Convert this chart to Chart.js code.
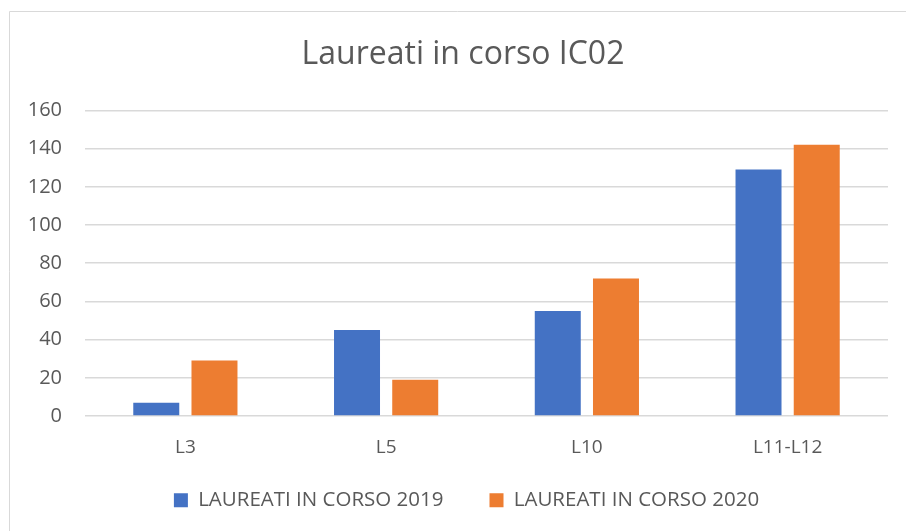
<!DOCTYPE html>
<html>
<head>
<meta charset="utf-8">
<script src="https://cdn.jsdelivr.net/npm/chart.js@4/dist/chart.umd.min.js"></script>
<style>
  html, body { margin: 0; padding: 0; background: #ffffff; }
  #wrap { width: 906px; height: 531px; position: relative; }
</style>
</head>
<body>
<div id="wrap"><canvas id="chart" width="906" height="531"></canvas></div>
<script>
// Chart data
const categories = ['L3', 'L5', 'L10', 'L11-L12'];
const values2019 = [7, 45, 55, 129];
const values2020 = [29, 19, 72, 142];
const seriesNames = ['LAUREATI IN CORSO 2019', 'LAUREATI IN CORSO 2020'];

const TEXT_COLOR = '#595959';
const GRID_COLOR = '#d9d9d9';
const FONT = "'Open Sans', 'Noto Sans', sans-serif";

// Thin frame round the chart, like the Excel chart border
const framePlugin = {
    id: 'frame',
    beforeDraw: function(chart) {
        const ctx = chart.ctx;
        ctx.save();
        ctx.strokeStyle = GRID_COLOR;
        ctx.lineWidth = 1;
        ctx.beginPath();
        ctx.moveTo(9.5, chart.height);
        ctx.lineTo(9.5, 11.5);
        ctx.lineTo(chart.width, 11.5);
        ctx.stroke();
        ctx.restore();
    }
};

// Excel centres title and legend on the whole frame, not on the plot;
// nudge both boxes after layout
const legendShift = { x: 17.5, y: -14 };
const titleShift = 14;
const nudgePlugin = {
    id: 'nudge',
    afterLayout: function(chart) {
        const lg = chart.legend;
        if (lg) {
            lg.left += legendShift.x;
            lg.right += legendShift.x;
            lg.top += legendShift.y;
            lg.bottom += legendShift.y;
        }
        const tb = chart.titleBlock;
        if (tb) {
            tb.left += titleShift;
            tb.right += titleShift;
        }
    }
};

const ctx = document.getElementById('chart').getContext('2d');
new Chart(ctx, {
    type: 'bar',
    data: {
        labels: categories,
        datasets: [
            {
                label: seriesNames[0],
                data: values2019,
                backgroundColor: '#4472c4',
                categoryPercentage: 0.58,
                barPercentage: 0.79
            },
            {
                label: seriesNames[1],
                data: values2020,
                backgroundColor: '#ed7d31',
                categoryPercentage: 0.58,
                barPercentage: 0.79
            }
        ]
    },
    options: {
        responsive: false,
        animation: false,
        layout: {
            padding: { left: 10, right: 18, top: 0, bottom: 0 }
        },
        plugins: {
            title: {
                display: true,
                text: 'Laureati in corso IC02',
                color: TEXT_COLOR,
                font: { family: FONT, size: 32, weight: 'normal', lineHeight: 1.2 },
                padding: { top: 36, bottom: 36 }
            },
            legend: {
                position: 'bottom',
                maxHeight: 73,
                labels: {
                    color: TEXT_COLOR,
                    font: { family: FONT, size: 20.5 },
                    boxWidth: 14,
                    boxHeight: 14,
                    padding: 46
                }
            },
            tooltip: { enabled: false }
        },
        scales: {
            x: {
                afterFit: function(scale) { scale.height = 42; },
                grid: { display: false, drawTicks: false },
                border: { display: false },
                ticks: {
                    color: TEXT_COLOR,
                    font: { family: FONT, size: 19 },
                    padding: 20
                }
            },
            y: {
                min: 0,
                max: 160,
                afterFit: function(scale) { scale.width = 75; },
                grid: { color: GRID_COLOR, lineWidth: 1.5, drawTicks: false },
                border: { display: false },
                ticks: {
                    stepSize: 20,
                    color: TEXT_COLOR,
                    font: { family: FONT, size: 20 },
                    padding: 23
                }
            }
        }
    },
    plugins: [framePlugin, nudgePlugin]
});
</script>
</body>
</html>
